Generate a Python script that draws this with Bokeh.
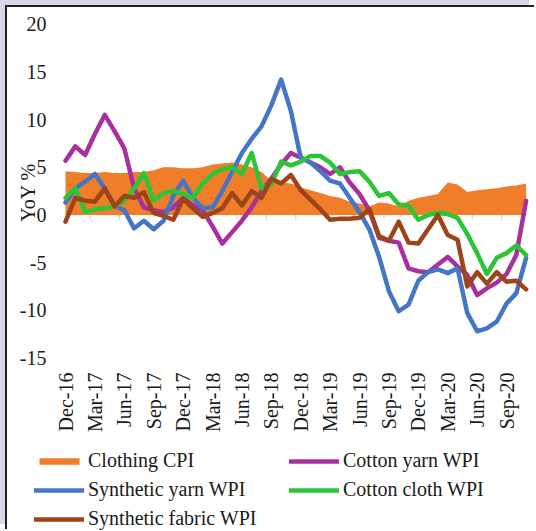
from math import pi
from bokeh.plotting import figure
from bokeh.models import Range1d, Legend, LegendItem
from bokeh.core.properties import value
from bokeh.embed import file_html
from bokeh.resources import INLINE

months = ["Dec-16", "Jan-17", "Feb-17", "Mar-17", "Apr-17", "May-17", "Jun-17", "Jul-17",
          "Aug-17", "Sep-17", "Oct-17", "Nov-17", "Dec-17", "Jan-18", "Feb-18", "Mar-18",
          "Apr-18", "May-18", "Jun-18", "Jul-18", "Aug-18", "Sep-18", "Oct-18", "Nov-18",
          "Dec-18", "Jan-19", "Feb-19", "Mar-19", "Apr-19", "May-19", "Jun-19", "Jul-19",
          "Aug-19", "Sep-19", "Oct-19", "Nov-19", "Dec-19", "Jan-20", "Feb-20", "Mar-20",
          "Apr-20", "May-20", "Jun-20", "Jul-20", "Aug-20", "Sep-20", "Oct-20", "Nov-20"]

tick_labels = ["Dec-16", "Mar-17", "Jun-17", "Sep-17", "Dec-17", "Mar-18", "Jun-18", "Sep-18",
               "Dec-18", "Mar-19", "Jun-19", "Sep-19", "Dec-19", "Mar-20", "Jun-20", "Sep-20"]

clothing_cpi = [4.6, 4.5, 4.4, 4.4, 4.5, 4.4, 4.4, 4.5, 4.5, 4.7, 5.0, 5.0,
                4.9, 4.9, 5.0, 5.3, 5.4, 5.5, 5.3, 5.0, 4.5, 3.6, 3.4, 3.3,
                2.9, 2.6, 2.3, 2.0, 1.8, 1.4, 1.2, 0.9, 1.3, 1.2, 0.9, 1.5,
                1.8, 2.0, 2.2, 3.4, 3.2, 2.4, 2.6, 2.7, 2.8, 3.0, 3.1, 3.3]

cotton_yarn = [5.7, 7.2, 6.3, 8.5, 10.5, 8.8, 7.0, 2.8, 0.8, 0.5, 0.3, 0.8,
               1.8, 1.0, 0.5, -1.2, -3.0, -1.8, -0.6, 0.8, 2.5, 3.8, 5.3, 6.5,
               6.0, 5.5, 5.0, 4.3, 5.0, 3.4, 2.2, 0.5, -2.4, -2.7, -2.9, -5.6,
               -5.9, -6.0, -5.2, -4.4, -5.4, -6.3, -8.4, -7.7, -7.1, -6.2, -4.2, 1.5]

synthetic_yarn = [1.3, 2.8, 3.5, 4.3, 2.8, 1.0, 0.5, -1.4, -0.6, -1.5, -0.6, 2.0,
                  3.6, 1.8, 0.7, 0.8, 2.5, 4.5, 6.5, 8.0, 9.3, 11.5, 14.2, 10.9,
                  6.0, 5.5, 4.6, 3.6, 3.3, 1.8, 0.3, -1.5, -4.4, -8.0, -10.1, -9.4,
                  -6.9, -6.0, -5.7, -6.1, -5.6, -10.3, -12.2, -11.9, -11.2, -9.3, -8.2, -4.5]

cotton_cloth = [1.8, 2.8, 0.3, 0.6, 0.7, 0.9, 1.5, 2.8, 4.4, 1.5, 2.3, 2.5,
                2.2, 1.8, 3.3, 4.3, 4.8, 5.0, 4.3, 6.5, 2.8, 3.2, 5.6, 5.2,
                5.6, 6.2, 6.2, 5.5, 4.3, 4.5, 4.6, 3.5, 2.0, 2.3, 1.1, 1.0,
                -0.5, 0.0, 0.2, 0.1, -0.3, -2.0, -4.0, -6.2, -4.5, -4.0, -3.2, -4.2]

synthetic_fabric = [-0.7, 1.8, 1.5, 1.4, 2.8, 0.9, 2.0, 1.8, 2.4, 0.2, -0.1, -0.5,
                    1.7, 0.7, -0.2, 0.2, 0.7, 2.3, 1.0, 2.5, 1.8, 3.8, 3.3, 4.2,
                    2.6, 1.6, 0.6, -0.5, -0.4, -0.4, -0.3, 0.6, -2.2, -2.7, -0.7, -2.9,
                    -3.0, -1.5, 0.0, -2.1, -2.6, -7.5, -6.0, -7.2, -6.0, -7.0, -6.9, -7.8]

y_ticks = [20, 15, 10, 5, 0, -5, -10, -15]
y_title = "YoY %"

x = list(range(len(months)))
SERIF = value("Liberation Serif")
TXT = "#1a1a1a"

# whole canvas is the plot frame so the legend below the chart is not clipped
p = figure(width=529, height=524, output_backend="svg", toolbar_location=None,
           x_range=Range1d(-5.92, 48.06), y_range=Range1d(-33.21, 21.77),
           min_border=0)
p.axis.visible = False
p.background_fill_color = "white"
p.border_fill_color = "white"
p.outline_line_color = None
p.grid.visible = False
p.styles = {"margin-left": "7px", "margin-top": "7px",
            "box-shadow": "-2px -2px 0 0 #222222, -7px -7px 0 0 #d9d6ec"}

# faint category-axis tick marks at the zero line (between categories, every third)
tick_idx = [months.index(t) for t in tick_labels]
boundaries = [i + 2.5 for i in tick_idx if i + 2.5 < len(months) - 1]
p.segment(x0=boundaries, y0=[0] * len(boundaries), x1=boundaries, y1=[-0.45] * len(boundaries),
          line_color="#c9c9c9", line_width=1)

area = p.varea(x=x, y1=0, y2=clothing_cpi, fill_color="#F07D2A")
r_cy = p.line(x, cotton_yarn, line_color="#A7309E", line_width=4.5, line_join="round", line_cap="round")
r_sy = p.line(x, synthetic_yarn, line_color="#4575C5", line_width=4.5, line_join="round", line_cap="round")
r_cc = p.line(x, cotton_cloth, line_color="#2DC437", line_width=4.5, line_join="round", line_cap="round")
r_sf = p.line(x, synthetic_fabric, line_color="#9B4518", line_width=4.5, line_join="round", line_cap="round")

# y tick labels
p.text(x=[-1.94] * len(y_ticks), y=y_ticks, text=[str(v) for v in y_ticks],
       text_align="right", text_baseline="middle", text_font=SERIF,
       text_font_size="20px", text_color=TXT)

# y axis title
p.text(x=[-3.78], y=[2.36], text=[y_title], angle=pi / 2,
       text_align="center", text_baseline="middle", text_font=SERIF,
       text_font_size="20px", text_color=TXT)

# x tick labels (every third month)
p.text(x=tick_idx, y=[-16.53] * len(tick_idx), text=tick_labels, angle=pi / 2,
       text_align="right", text_baseline="middle", text_font=SERIF,
       text_font_size="20px", text_color=TXT)

legend = Legend(items=[
    LegendItem(label="Clothing CPI", renderers=[area]),
    LegendItem(label="Synthetic yarn WPI", renderers=[r_sy]),
    LegendItem(label="Synthetic fabric WPI", renderers=[r_sf]),
    LegendItem(label="Cotton yarn WPI", renderers=[r_cy]),
    LegendItem(label="Cotton cloth WPI", renderers=[r_cc]),
], location=(27, 1), orientation="vertical", nrows=3,
   glyph_width=50, glyph_height=8, label_standoff=4, label_width=195, label_height=22,
   spacing=6, padding=0, margin=0,
   label_text_font="Liberation Serif", label_text_font_size="20px", label_text_color=TXT,
   background_fill_alpha=0, border_line_color=None)
p.add_layout(legend, "center")

open("out.html", "w").write(file_html(p, INLINE))
